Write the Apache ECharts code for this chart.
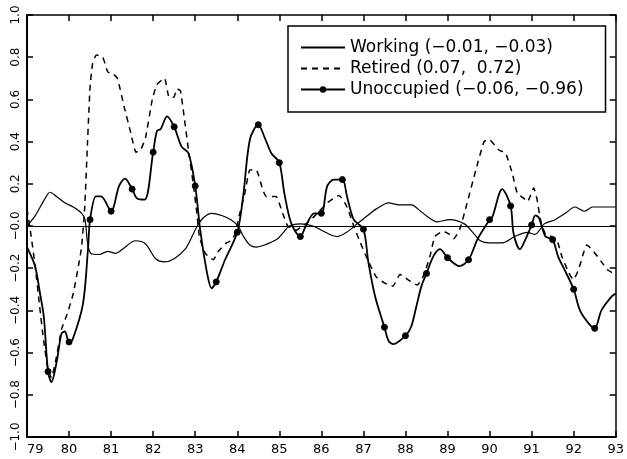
<!DOCTYPE html>
<html>
<head>
<meta charset="utf-8">
<script src="https://cdn.jsdelivr.net/npm/echarts@6/dist/echarts.min.js"></script>
<style>
html,body{margin:0;padding:0;background:#fff;}
#chart{width:627px;height:459px;}
</style>
</head>
<body>
<div id="chart"></div>
<script>
// ---- data (year, value) ----
const seriesNames = [
  'Working (\u22120.01, \u22120.03)',
  'Retired (0.07,  0.72)',
  'Unoccupied (\u22120.06, \u22120.96)'
];

const working = [
  [79.0, 0.00], [79.2, 0.05], [79.4, 0.12], [79.55, 0.16], [79.7, 0.14], [79.9, 0.11],
  [80.1, 0.09], [80.3, 0.06], [80.38, 0.03], [80.44, -0.08], [80.52, -0.13], [80.72, -0.135],
  [80.92, -0.12], [81.11, -0.13], [81.27, -0.11], [81.58, -0.07], [81.82, -0.085], [82.06, -0.155],
  [82.27, -0.17], [82.5, -0.155], [82.76, -0.11], [82.9, -0.06], [83.05, 0.0], [83.2, 0.04],
  [83.39, 0.06], [83.63, 0.05], [83.85, 0.03], [84.02, 0.0], [84.15, -0.05], [84.3, -0.09],
  [84.45, -0.10], [84.65, -0.09], [84.96, -0.06], [85.1, -0.03], [85.24, 0.0], [85.5, 0.01],
  [85.8, 0.0], [86.0, -0.02], [86.2, -0.04], [86.38, -0.05], [86.6, -0.03], [86.85, 0.01],
  [87.1, 0.05], [87.3, 0.08], [87.6, 0.11], [87.85, 0.10], [88.15, 0.10], [88.3, 0.08],
  [88.55, 0.04], [88.75, 0.02], [89.05, 0.03], [89.4, 0.01], [89.6, -0.03], [89.78, -0.07],
  [90.0, -0.08], [90.3, -0.08], [90.6, -0.05], [90.9, -0.03], [91.08, -0.04], [91.3, 0.01],
  [91.56, 0.03], [91.8, 0.06], [92.03, 0.09], [92.25, 0.07], [92.45, 0.09], [92.7, 0.09],
  [93.0, 0.09]
];

const retired = [
  [79.0, 0.08], [79.1, -0.05], [79.2, -0.2], [79.3, -0.38], [79.4, -0.55], [79.5, -0.68],
  [79.58, -0.72], [79.7, -0.62], [79.82, -0.49], [79.95, -0.42], [80.1, -0.32], [80.29, -0.11],
  [80.37, 0.08], [80.44, 0.40], [80.5, 0.66], [80.56, 0.77], [80.65, 0.81], [80.8, 0.80],
  [80.92, 0.73], [81.05, 0.72], [81.15, 0.70], [81.31, 0.565], [81.47, 0.44], [81.59, 0.35],
  [81.7, 0.36], [81.82, 0.42], [81.98, 0.60], [82.09, 0.67], [82.27, 0.70], [82.38, 0.61],
  [82.49, 0.61], [82.57, 0.65], [82.65, 0.64], [82.84, 0.36], [82.96, 0.19], [83.04, 0.06],
  [83.1, -0.05], [83.24, -0.13], [83.43, -0.16], [83.55, -0.12], [83.74, -0.08], [83.86, -0.07],
  [83.94, -0.04], [84.06, 0.06], [84.18, 0.155], [84.3, 0.265], [84.45, 0.265], [84.61, 0.17],
  [84.69, 0.14], [84.92, 0.14], [85.08, 0.06], [85.2, 0.0], [85.4, -0.02], [85.55, 0.0],
  [85.7, 0.02], [85.9, 0.06], [86.14, 0.11], [86.42, 0.145], [86.61, 0.09], [86.77, 0.0],
  [86.93, -0.08], [87.08, -0.15], [87.3, -0.24], [87.5, -0.27], [87.7, -0.285], [87.87, -0.23],
  [88.1, -0.26], [88.28, -0.28], [88.42, -0.24], [88.58, -0.145], [88.7, -0.05], [88.9, -0.025],
  [89.05, -0.04], [89.15, -0.06], [89.3, -0.01], [89.44, 0.09], [89.68, 0.27], [89.87, 0.40],
  [89.99, 0.41], [90.22, 0.36], [90.38, 0.345], [90.54, 0.25], [90.66, 0.155], [90.82, 0.13],
  [90.9, 0.115], [91.05, 0.18], [91.13, 0.125], [91.21, 0.03], [91.33, -0.04], [91.48, -0.05],
  [91.6, -0.065], [91.72, -0.145], [91.88, -0.22], [91.99, -0.255], [92.11, -0.21], [92.23, -0.13],
  [92.31, -0.09], [92.43, -0.11], [92.66, -0.17], [92.82, -0.21], [93.0, -0.23]
];

const unoccupied = [
  [79.0, -0.10], [79.19, -0.19], [79.31, -0.32], [79.4, -0.43], [79.5, -0.69], [79.58, -0.74],
  [79.7, -0.65], [79.82, -0.51], [79.9, -0.50], [80.0, -0.55], [80.08, -0.54], [80.33, -0.37],
  [80.45, -0.11], [80.5, 0.03], [80.64, 0.14], [80.76, 0.14], [81.0, 0.07], [81.19, 0.19],
  [81.33, 0.225], [81.5, 0.175], [81.62, 0.13], [81.8, 0.125], [82.0, 0.35], [82.09, 0.45],
  [82.18, 0.46], [82.33, 0.52], [82.5, 0.47], [82.68, 0.375], [82.84, 0.345], [83.0, 0.19],
  [83.12, -0.02], [83.27, -0.21], [83.39, -0.295], [83.5, -0.265], [83.71, -0.16], [84.0, -0.03],
  [84.14, 0.14], [84.3, 0.41], [84.5, 0.48], [84.65, 0.42], [84.81, 0.345], [85.0, 0.30],
  [85.12, 0.155], [85.28, 0.015], [85.5, -0.05], [85.63, 0.0], [85.83, 0.06], [86.0, 0.06],
  [86.14, 0.19], [86.3, 0.22], [86.5, 0.22], [86.61, 0.14], [86.77, 0.03], [87.0, -0.015],
  [87.12, -0.175], [87.28, -0.335], [87.5, -0.48], [87.6, -0.545], [87.71, -0.56], [88.0, -0.52],
  [88.14, -0.475], [88.26, -0.38], [88.38, -0.285], [88.5, -0.225], [88.66, -0.145], [88.82, -0.11],
  [89.0, -0.15], [89.28, -0.19], [89.5, -0.16], [89.72, -0.06], [90.0, 0.03], [90.07, 0.045],
  [90.3, 0.175], [90.5, 0.095], [90.57, -0.035], [90.72, -0.11], [90.85, -0.065], [91.0, 0.005],
  [91.09, 0.05], [91.17, 0.04], [91.33, -0.05], [91.5, -0.065], [91.63, -0.145], [91.79, -0.21],
  [92.0, -0.30], [92.15, -0.40], [92.35, -0.46], [92.5, -0.485], [92.66, -0.40], [92.9, -0.335],
  [93.0, -0.32]
];

// years at which the Unoccupied curve carries a dot marker
const markerYears = [79.5, 80.0, 80.5, 81.0, 81.5, 82.0, 82.5, 83.0, 83.5, 84.0, 84.5, 85.0,
  85.5, 86.0, 86.5, 87.0, 87.5, 88.0, 88.5, 89.0, 89.5, 90.0, 90.5, 91.0, 91.5, 92.0, 92.5];

const xMin = 79, xMax = 93, xStep = 1;
const yMin = -1, yMax = 1, yStep = 0.2;

// ---- chart ----
const FONT = 'DejaVu Sans';
const chart = echarts.init(document.getElementById('chart'), null, {renderer: 'canvas'});

const unoccData = unoccupied.map(p =>
  markerYears.some(m => Math.abs(m - p[0]) < 1e-6) ? {value: p} : {value: p, symbol: 'none'}
);

function yFmt(v) {
  if (Math.abs(v) < 1e-9) return '\u22120.0';
  return v < 0 ? '\u2212' + Math.abs(v).toFixed(1) : v.toFixed(1);
}

const axisCommon = {
  axisTick: {show: true, inside: true, length: 6, lineStyle: {color: '#000', width: 1.5}},
  splitLine: {show: false}
};

const hiddenSymbol = {opacity: 0, color: 'rgba(0,0,0,0)', borderWidth: 0};

const option = {
  backgroundColor: '#fff',
  animation: false,
  textStyle: {fontFamily: FONT, color: '#000'},
  grid: {left: 27, right: 6, top: 15, bottom: 22, containLabel: false},
  legend: {
    orient: 'vertical',
    left: 288, top: 26,
    padding: [13, 22, 14, 12],
    itemWidth: 44, itemHeight: 8, itemGap: 4,
    borderColor: '#000', borderWidth: 1.5,
    backgroundColor: '#fff',
    data: [
      {name: seriesNames[0], itemStyle: hiddenSymbol},
      {name: seriesNames[1], itemStyle: hiddenSymbol},
      {name: seriesNames[2]}
    ],
    textStyle: {fontFamily: FONT, fontSize: 17, color: '#000'}
  },
  xAxis: [
    Object.assign({
      type: 'value', position: 'bottom', min: xMin, max: xMax, interval: xStep,
      axisLine: {show: true, onZero: false, lineStyle: {color: '#000', width: 2}},
      axisLabel: {show: true, margin: 6, fontSize: 13, fontFamily: FONT, color: '#000',
        alignMinLabel: 'left'}
    }, axisCommon),
    Object.assign({
      type: 'value', position: 'top', min: xMin, max: xMax, interval: xStep,
      axisLine: {show: true, onZero: false, lineStyle: {color: '#000', width: 1.5}},
      axisLabel: {show: false}
    }, axisCommon)
  ],
  yAxis: [
    Object.assign({
      type: 'value', position: 'left', min: yMin, max: yMax, interval: yStep,
      axisLine: {show: true, onZero: false, lineStyle: {color: '#000', width: 2}},
      axisLabel: {show: true, rotate: 90, margin: 5, fontSize: 12, fontFamily: FONT, color: '#000',
        formatter: yFmt}
    }, axisCommon),
    Object.assign({
      type: 'value', position: 'right', min: yMin, max: yMax, interval: yStep,
      axisLine: {show: true, onZero: false, lineStyle: {color: '#000', width: 1.5}},
      axisLabel: {show: false}
    }, axisCommon)
  ],
  series: [
    {
      name: seriesNames[0], type: 'line', data: working,
      xAxisIndex: 0, yAxisIndex: 0,
      symbol: 'none', smooth: 0.3,
      lineStyle: {color: '#000', width: 1.2},
      itemStyle: {color: '#000'},
      markLine: {
        silent: true, symbol: 'none', label: {show: false},
        lineStyle: {color: '#000', width: 1.2, type: 'solid'},
        data: [{yAxis: 0}]
      }
    },
    {
      name: seriesNames[1], type: 'line', data: retired,
      xAxisIndex: 0, yAxisIndex: 0,
      symbol: 'none', smooth: 0.15,
      lineStyle: {color: '#000', width: 1.5, type: [6, 5]},
      itemStyle: {color: '#000'}
    },
    {
      name: seriesNames[2], type: 'line', data: unoccData,
      xAxisIndex: 0, yAxisIndex: 0,
      symbol: 'circle', symbolSize: 6, showSymbol: true, showAllSymbol: true, smooth: 0.3,
      lineStyle: {color: '#000', width: 1.8},
      itemStyle: {color: '#000', borderColor: '#000'}
    }
  ]
};
chart.setOption(option);
</script>
</body>
</html>
